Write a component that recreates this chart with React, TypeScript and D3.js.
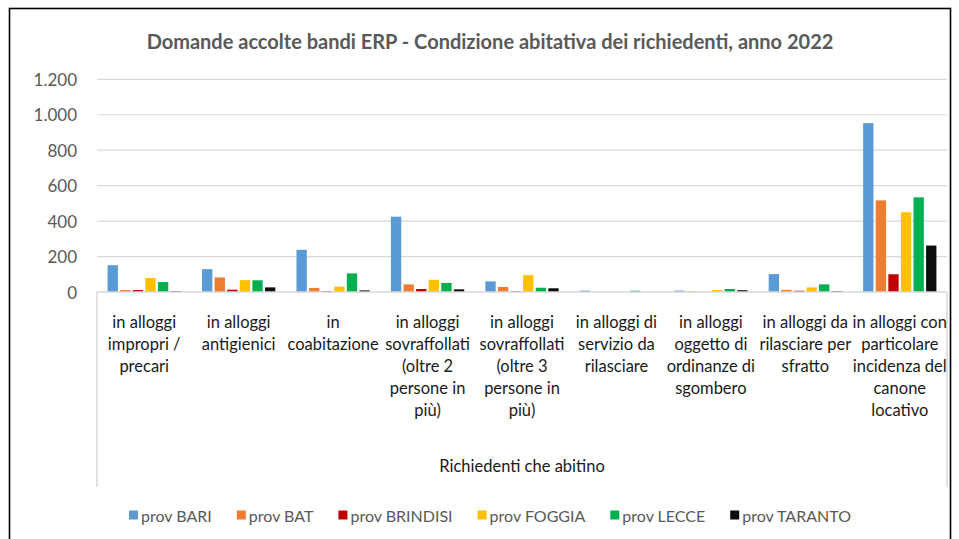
import React, { useEffect, useRef } from "react";
import * as d3 from "d3";

const categories: string[][] = [
  ["in alloggi", "impropri /", "precari"],
  ["in alloggi", "antigienici"],
  ["in", "coabitazione"],
  ["in alloggi", "sovraffollati", "(oltre 2", "persone in", "più)"],
  ["in alloggi", "sovraffollati", "(oltre 3", "persone in", "più)"],
  ["in alloggi di", "servizio da", "rilasciare"],
  ["in alloggi", "oggetto di", "ordinanze di", "sgombero"],
  ["in alloggi da", "rilasciare per", "sfratto"],
  ["in alloggi con", "particolare", "incidenza del", "canone", "locativo"],
];

const seriesNames = ["prov BARI", "prov BAT", "prov BRINDISI", "prov FOGGIA", "prov LECCE", "prov TARANTO"];
const seriesColors = ["#5B9BD5", "#ED7D31", "#C00000", "#FFC000", "#00B050", "#0D0D0D"];

const bari = [151, 129, 238, 425, 60, 8, 8, 101, 953];
const bat = [11, 82, 23, 43, 28, 0, 4, 12, 517];
const brindisi = [11, 13, 5, 17, 5, 0, 0, 7, 100];
const foggia = [79, 67, 30, 69, 95, 0, 11, 26, 450];
const lecce = [56, 66, 105, 51, 24, 7, 17, 43, 534];
const taranto = [5, 26, 9, 15, 21, 0, 10, 5, 262];
const seriesValues = [bari, bat, brindisi, foggia, lecce, taranto];

const yTicks = [0, 200, 400, 600, 800, 1000, 1200];
const title = "Domande accolte bandi ERP - Condizione abitativa dei richiedenti, anno 2022";
const axisTitle = "Richiedenti che abitino";

const FONT = "Lato, 'Open Sans', sans-serif";

export default function App() {
  const ref = useRef<SVGSVGElement | null>(null);

  useEffect(() => {
    const svg = d3.select(ref.current);
    svg.selectAll("*").remove();

    const left = 97, right = 947, top = 79.3, bottom = 292;
    const x0 = d3.scaleBand<number>().domain(d3.range(categories.length)).range([left, right]).paddingInner(0).paddingOuter(0);
    const x1 = d3.scaleBand<number>().domain(d3.range(seriesNames.length)).range([0, x0.bandwidth()]).paddingInner(0).paddingOuter(0.75);
    const y = d3.scaleLinear().domain([0, 1200]).range([bottom, top]);
    const locale = d3.formatLocale({ decimal: ",", thousands: ".", grouping: [3], currency: ["", "€"] });
    const fmt = locale.format(",d");

    // frame
    svg.append("rect").attr("x", 9.5).attr("y", 8.5).attr("width", 941).attr("height", 560)
      .attr("fill", "white").attr("stroke", "#000").attr("stroke-width", 1.6);

    // title
    svg.append("text").attr("x", 490).attr("y", 41).attr("text-anchor", "middle").attr("dominant-baseline", "central")
      .attr("font-family", FONT).attr("font-weight", "bold").attr("font-size", 20).attr("fill", "#595959").text(title);

    // gridlines
    svg.append("g").selectAll("line").data(yTicks.filter(t => t > 0)).join("line")
      .attr("x1", left).attr("x2", right).attr("y1", d => y(d)).attr("y2", d => y(d))
      .attr("stroke", "#d9d9d9").attr("stroke-width", 1.2);

    // y tick labels
    svg.append("g").selectAll("text").data(yTicks).join("text")
      .attr("x", 77).attr("y", d => y(d)).attr("text-anchor", "end").attr("dominant-baseline", "central")
      .attr("font-family", FONT).attr("font-size", 17).attr("fill", "#595959").text(d => fmt(d));

    // bars
    const g = svg.append("g");
    seriesValues.forEach((vals, si) => {
      g.append("g").selectAll("rect").data(vals).join("rect")
        .attr("x", (_, ci) => (x0(ci) as number) + (x1(si) as number) + x1.bandwidth() * 0.09)
        .attr("width", x1.bandwidth() * 0.82)
        .attr("y", d => y(d))
        .attr("height", d => y(0) - y(d))
        .attr("fill", seriesColors[si]);
    });

    // category axis box
    const boxBottom = 487;
    svg.append("line").attr("x1", left).attr("x2", right).attr("y1", bottom).attr("y2", bottom)
      .attr("stroke", "#d9d9d9").attr("stroke-width", 1.5);
    svg.append("line").attr("x1", left).attr("x2", left).attr("y1", bottom).attr("y2", boxBottom)
      .attr("stroke", "#d9d9d9").attr("stroke-width", 1.5);
    svg.append("line").attr("x1", right).attr("x2", right).attr("y1", bottom).attr("y2", boxBottom)
      .attr("stroke", "#d9d9d9").attr("stroke-width", 1.5);

    // category labels
    const cl = svg.append("g");
    categories.forEach((lines, ci) => {
      const t = cl.append("text").attr("text-anchor", "middle")
        .attr("font-family", FONT).attr("font-size", 16.5).attr("fill", "#1a1a1a");
      lines.forEach((ln, li) => {
        t.append("tspan").attr("x", (x0(ci) as number) + x0.bandwidth() / 2).attr("y", 328 + li * 22).text(ln);
      });
    });

    // axis title
    svg.append("text").attr("x", (left + right) / 2).attr("y", 466).attr("text-anchor", "middle")
      .attr("dominant-baseline", "central").attr("font-family", FONT).attr("font-size", 16.5).attr("fill", "#1a1a1a")
      .text(axisTitle);

    // legend
    const lg = svg.append("g");
    const items = seriesNames.map((name, i) => {
      const it = lg.append("g");
      it.append("rect").attr("width", 9).attr("height", 9).attr("y", -4.5).attr("fill", seriesColors[i]);
      const tx = it.append("text").attr("x", 12).attr("dominant-baseline", "central")
        .attr("font-family", FONT).attr("font-size", 16).attr("fill", "#595959").text(name);
      const w = 12 + (tx.node() as SVGTextElement).getComputedTextLength();
      return { it, w };
    });
    const gap = 25;
    const total = d3.sum(items, d => d.w) + gap * (items.length - 1);
    let cx = 490 - total / 2;
    items.forEach(({ it, w }) => {
      it.attr("transform", `translate(${cx},515)`);
      cx += w + gap;
    });
  }, []);

  return (
    <svg ref={ref} width={959} height={539} style={{ position: "absolute", left: 0, top: 0, background: "white" }} />
  );
}
